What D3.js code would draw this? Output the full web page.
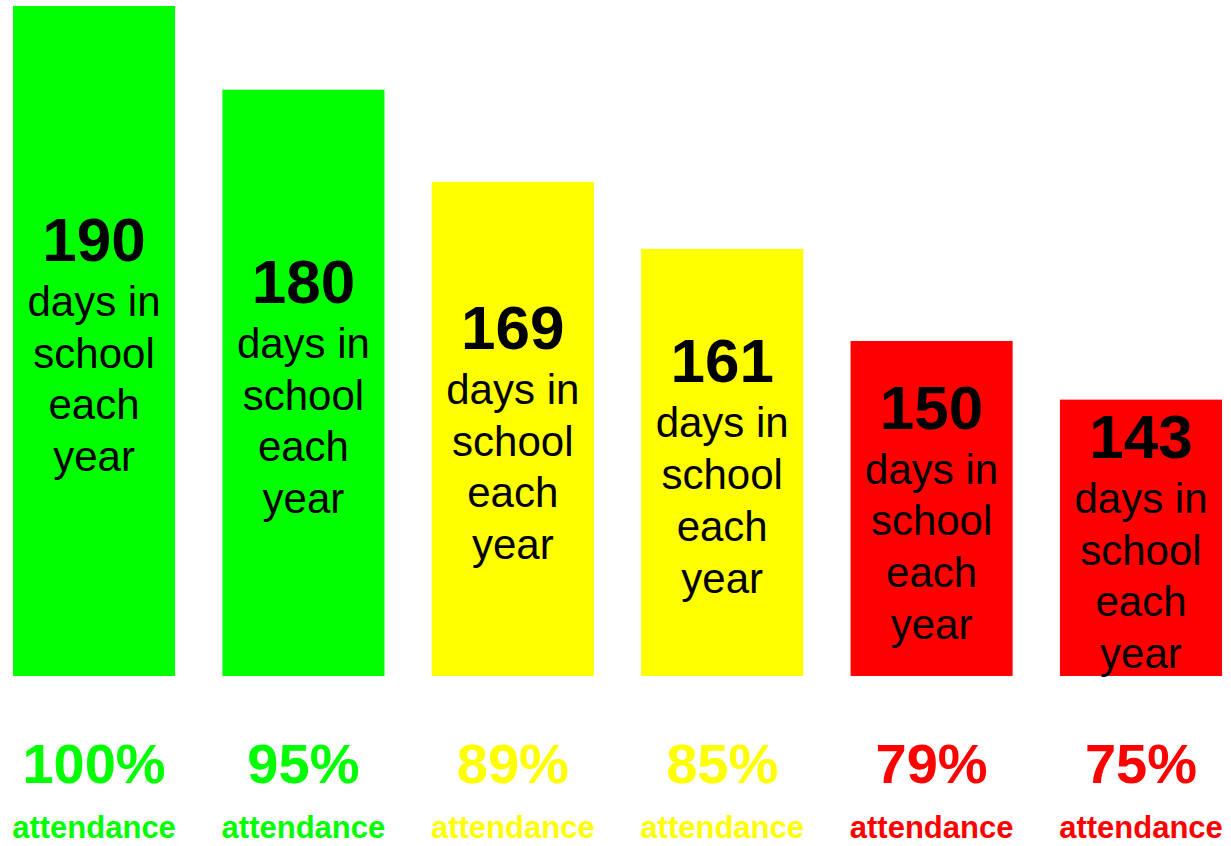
<!DOCTYPE html>
<html>
<head>
<meta charset="utf-8">
<script src="https://cdn.jsdelivr.net/npm/d3@7"></script>
<style>
  body { margin: 0; background: #fff; }
  svg { display: block; font-family: "Liberation Sans", Arial, sans-serif; }
</style>
</head>
<body>
<svg id="chart" width="1231" height="846"></svg>
<script>
// chart values
const days = [190, 180, 169, 161, 150, 143];
const attendance = [100, 95, 89, 85, 79, 75];
const tiers = ["good", "good", "warn", "warn", "bad", "bad"];
const caption = ["days in", "school", "each", "year"];

const tierColor = { good: "#00ff00", warn: "#ffff00", bad: "#ff0000" };

const width = 1231;
const height = 846;
const baseY = 676;

const svg = d3.select("#chart");

const x = d3.scaleBand()
  .domain(d3.range(days.length))
  .range([13, 1222])
  .paddingInner(0.226)
  .paddingOuter(0);

// bar height scale (baseline not at zero, like the original graphic)
const y = d3.scaleLinear()
  .domain([110, 190])
  .range([baseY, 6]);

const rows = days.map((d, i) => ({ days: d, pct: attendance[i], tier: tiers[i], i }));

const bars = svg.append("g").selectAll("g")
  .data(rows)
  .join("g");

bars.append("rect")
  .attr("x", d => x(d.i))
  .attr("width", x.bandwidth())
  .attr("y", d => y(d.days))
  .attr("height", d => baseY - y(d.days))
  .attr("fill", d => tierColor[d.tier]);

// text block inside each bar
const txt = bars.append("text")
  .attr("text-anchor", "middle")
  .attr("fill", "#000")
  .attr("x", d => x(d.i) + x.bandwidth() / 2)
  .attr("y", d => (y(d.days) + baseY) / 2 - 80);

txt.append("tspan")
  .attr("font-weight", "bold")
  .attr("font-size", 62)
  .text(d => d.days);

caption.forEach((c, k) => {
  txt.append("tspan")
    .attr("x", d => x(d.i) + x.bandwidth() / 2)
    .attr("dy", k === 0 ? 55 : 51.7)
    .attr("font-size", 42)
    .text(c);
});

// attendance labels below
const labels = svg.append("g").selectAll("g")
  .data(rows)
  .join("g")
  .attr("transform", d => `translate(${x(d.i) + x.bandwidth() / 2},0)`)
  .attr("fill", d => tierColor[d.tier])
  .attr("text-anchor", "middle")
  .attr("font-weight", "bold");

labels.append("text")
  .attr("y", 783)
  .attr("font-size", 56)
  .text(d => d.pct + "%");

labels.append("text")
  .attr("y", 838)
  .attr("font-size", 31)
  .text("attendance");
</script>
</body>
</html>
